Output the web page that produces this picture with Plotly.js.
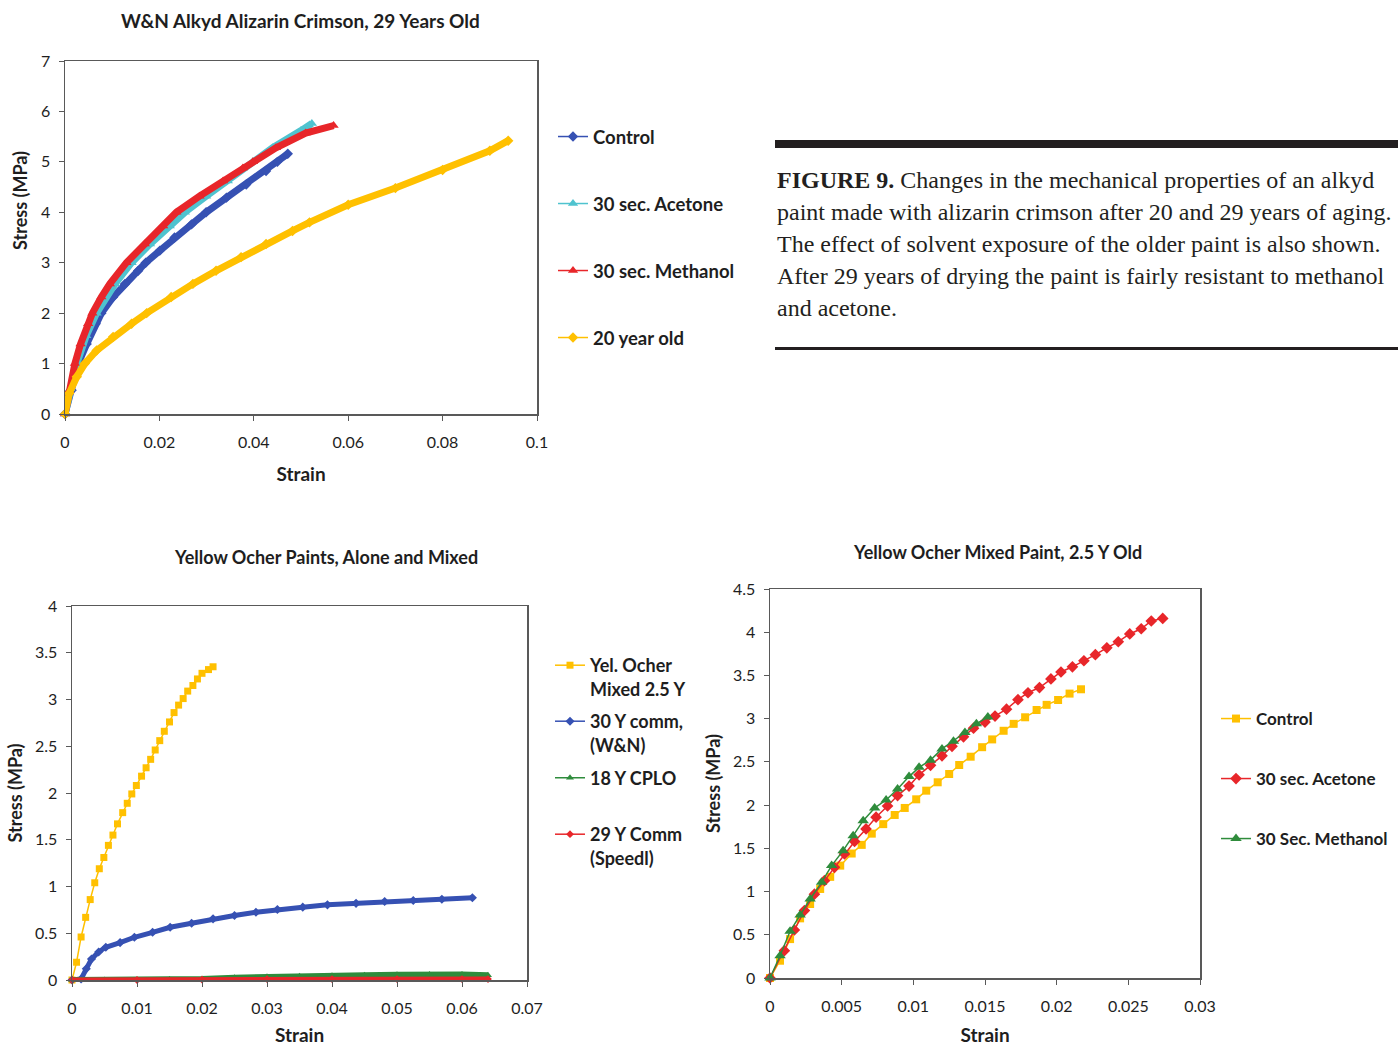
<!DOCTYPE html>
<html><head><meta charset="utf-8">
<script src="https://cdn.plot.ly/plotly-3.0.1.min.js"></script>
<style>html,body{margin:0;padding:0;background:#fff;overflow:hidden;width:1398px;height:1046px;} #chart{width:1398px;height:1046px;overflow:hidden;}</style>
</head><body><div id="chart"></div>
<script>
// ---------- Chart 1: W&N Alkyd Alizarin Crimson, 29 Years Old ----------
const c1Title = "W&N Alkyd Alizarin Crimson, 29 Years Old";
const c1Names = ["Control", "30 sec. Acetone", "30 sec. Methanol", "20 year old"];
const c1ControlStrain = [0,0.0014,0.0028,0.0046,0.0065,0.0077,0.0102,0.0127,0.0155,0.0171,0.0201,0.0232,0.0268,0.0299,0.0342,0.0384,0.0426,0.045,0.0472];
const c1ControlStress = [0,0.47,1.0,1.39,1.79,2.0,2.32,2.58,2.84,3.0,3.24,3.5,3.76,4.0,4.29,4.55,4.82,5.0,5.16];
const c1AcetoneStrain = [0,0.0011,0.0025,0.0045,0.0067,0.0106,0.0141,0.018,0.0222,0.0254,0.0299,0.0345,0.0398,0.044,0.05,0.0523];
const c1AcetoneStress = [0,0.5,1.0,1.55,2.0,2.58,3.0,3.37,3.73,4.0,4.32,4.62,5.0,5.28,5.62,5.76];
const c1MethanolStrain = [0,0.0009,0.0021,0.0033,0.0049,0.0058,0.0077,0.0095,0.013,0.0169,0.0208,0.0236,0.0285,0.0335,0.0377,0.0398,0.0447,0.051,0.0569];
const c1MethanolStress = [0,0.47,1.0,1.39,1.79,2.0,2.32,2.58,3.0,3.37,3.73,4.0,4.32,4.62,4.88,5.0,5.28,5.57,5.72];
const c1OldStrain = [0,0.0009,0.0025,0.0042,0.0067,0.0102,0.0141,0.0173,0.0225,0.0271,0.032,0.0373,0.0426,0.0482,0.0518,0.06,0.07,0.08,0.09,0.0939];
const c1OldStress = [0,0.41,0.74,1.0,1.26,1.53,1.79,2.0,2.32,2.58,2.84,3.11,3.37,3.63,3.8,4.15,4.48,4.84,5.22,5.42];

// ---------- Chart 2: Yellow Ocher Paints, Alone and Mixed ----------
const c2Title = "Yellow Ocher Paints, Alone and Mixed";
const c2Names = ["Yel. Ocher<br>Mixed 2.5 Y", "30 Y comm,<br>(W&N)", "18 Y CPLO", "29 Y Comm<br>(Speedl)"];
const c2MixedStrain = [0,0.0007,0.0014,0.0021,0.0028,0.0035,0.0042,0.0049,0.0056,0.0063,0.0070,0.0078,0.0085,0.0092,0.0099,0.0107,0.0114,0.0121,0.0128,0.0135,0.0142,0.0150,0.0157,0.0164,0.0171,0.0178,0.0186,0.0193,0.0200,0.0210,0.0217];
const c2MixedStress = [0,0.19,0.46,0.67,0.86,1.04,1.19,1.31,1.44,1.55,1.67,1.79,1.89,1.99,2.08,2.18,2.27,2.36,2.46,2.56,2.66,2.76,2.86,2.94,3.01,3.09,3.15,3.22,3.28,3.32,3.35];
const c2WNStrain = [0,0.0014,0.0022,0.003,0.0041,0.0052,0.0074,0.0096,0.0124,0.0151,0.0184,0.0217,0.025,0.0283,0.0316,0.0355,0.0393,0.0437,0.0481,0.0525,0.0569,0.0616];
const c2WNStress = [0,0.01,0.12,0.225,0.30,0.35,0.40,0.457,0.51,0.564,0.607,0.654,0.69,0.725,0.754,0.779,0.804,0.82,0.84,0.85,0.864,0.879];
const c2CPLOStrain = [0,0.005,0.01,0.015,0.02,0.025,0.03,0.035,0.04,0.045,0.05,0.055,0.06,0.064];
const c2CPLOStress = [0,0,0,0.005,0.01,0.025,0.035,0.04,0.045,0.05,0.055,0.06,0.06,0.05];
const c2SpeedlStrain = [0,0.01,0.02,0.03,0.04,0.05,0.06,0.064];
const c2SpeedlStress = [0,0,0.005,0.01,0.01,0.01,0.01,0.01];

// ---------- Chart 3: Yellow Ocher Mixed Paint, 2.5 Y Old ----------
const c3Title = "Yellow Ocher Mixed Paint, 2.5 Y Old";
const c3Names = ["Control", "30 sec. Acetone", "30 Sec. Methanol"];
const c3ControlStrain = [0,0.0007,0.0014,0.0021,0.0028,0.0035,0.0042,0.0049,0.0057,0.0064,0.0071,0.0079,0.0087,0.0094,0.0102,0.0109,0.0117,0.0125,0.0132,0.014,0.0148,0.0155,0.0163,0.017,0.0178,0.0186,0.0193,0.0201,0.0209,0.0217];
const c3ControlStress = [0,0.2,0.45,0.69,0.856,1.03,1.17,1.30,1.44,1.54,1.67,1.78,1.886,1.967,2.067,2.167,2.264,2.36,2.464,2.56,2.67,2.76,2.86,2.94,3.016,3.10,3.16,3.216,3.29,3.34];
const c3AcetoneStrain = [0,0.001,0.0017,0.0024,0.0031,0.0038,0.0045,0.0052,0.0059,0.0067,0.0074,0.0082,0.0089,0.0097,0.0104,0.0112,0.012,0.0127,0.0135,0.0142,0.015,0.0157,0.0165,0.0173,0.018,0.0188,0.0196,0.0203,0.0211,0.0219,0.0227,0.0235,0.0243,0.0251,0.0259,0.0266,0.0274];
const c3AcetoneStress = [0,0.316,0.555,0.78,0.97,1.126,1.28,1.435,1.58,1.724,1.86,1.99,2.11,2.22,2.35,2.46,2.57,2.68,2.79,2.89,2.96,3.03,3.11,3.22,3.30,3.36,3.46,3.54,3.60,3.67,3.74,3.82,3.89,3.98,4.04,4.13,4.16];
const c3MethanolStrain = [0,0.0007,0.0014,0.0021,0.0028,0.0036,0.0043,0.0051,0.0058,0.0065,0.0073,0.0081,0.0089,0.0097,0.0104,0.0112,0.012,0.0128,0.0136,0.0144,0.0152];
const c3MethanolStress = [0,0.258,0.54,0.73,0.914,1.107,1.30,1.473,1.647,1.82,1.967,2.06,2.187,2.33,2.437,2.52,2.65,2.74,2.84,2.94,3.02];

const axisTitle = "Stress (MPa)";
const xTitle = "Strain";
const captionLines = [
  "<b>FIGURE 9.</b> Changes in the mechanical properties of an alkyd",
  "paint made with alizarin crimson after 20 and 29 years of aging.",
  "The effect of solvent exposure of the older paint is also shown.",
  "After 29 years of drying the paint is fairly resistant to methanol",
  "and acetone."
];

// ---------- colours ----------
const BLUE = "#3651b3", CYAN = "#4fc3cf", RED = "#e8262a", YELLOW = "#ffc000", GREEN = "#2f8c3c";

const W = 1398, H = 1046;
const px = v => v / W, py = v => 1 - v / H;
const FONT = "Lato, 'Open Sans', sans-serif";
const SERIF = "'Liberation Serif', 'DejaVu Serif', serif";
const TXT = "#1e1e1e";

// band: thick line (dense-marker look), no legend
function band(x, y, color, lw, xa, ya) {
  return {x, y, type: "scatter", mode: "lines", xaxis: xa, yaxis: ya, showlegend: false,
    cliponaxis: false, hoverinfo: "skip", line: {color, width: lw}};
}
// marked series with legend entry
function series(x, y, name, color, symbol, ms, xa, ya, leg) {
  return {x, y, name, type: "scatter", mode: "lines+markers", xaxis: xa, yaxis: ya, legend: leg,
    cliponaxis: false, line: {color, width: 1.5}, marker: {color, symbol, size: ms}};
}

const traces = [
  band(c1ControlStrain, c1ControlStress, BLUE, 7, "x", "y"),
  series(c1ControlStrain, c1ControlStress, c1Names[0], BLUE, "diamond", 8, "x", "y", "legend"),
  band(c1AcetoneStrain, c1AcetoneStress, CYAN, 7, "x", "y"),
  series(c1AcetoneStrain, c1AcetoneStress, c1Names[1], CYAN, "triangle-up", 9, "x", "y", "legend2"),
  band(c1MethanolStrain, c1MethanolStress, RED, 7, "x", "y"),
  series(c1MethanolStrain, c1MethanolStress, c1Names[2], RED, "triangle-up", 9, "x", "y", "legend3"),
  band(c1OldStrain, c1OldStress, YELLOW, 7, "x", "y"),
  series(c1OldStrain, c1OldStress, c1Names[3], YELLOW, "diamond", 8, "x", "y", "legend4"),

  series(c2MixedStrain, c2MixedStress, c2Names[0], YELLOW, "square", 7, "x2", "y2", "legend5"),
  band(c2WNStrain, c2WNStress, BLUE, 5, "x2", "y2"),
  series(c2WNStrain, c2WNStress, c2Names[1], BLUE, "diamond", 7, "x2", "y2", "legend6"),
  band(c2CPLOStrain, c2CPLOStress, GREEN, 6, "x2", "y2"),
  series(c2CPLOStrain, c2CPLOStress, c2Names[2], GREEN, "triangle-up", 7, "x2", "y2", "legend7"),
  band(c2SpeedlStrain, c2SpeedlStress, RED, 5, "x2", "y2"),
  series(c2SpeedlStrain, c2SpeedlStress, c2Names[3], RED, "diamond", 6, "x2", "y2", "legend8"),

  series(c3ControlStrain, c3ControlStress, c3Names[0], YELLOW, "square", 8, "x3", "y3", "legend9"),
  series(c3AcetoneStrain, c3AcetoneStress, c3Names[1], RED, "diamond", 9, "x3", "y3", "legend10"),
  series(c3MethanolStrain, c3MethanolStress, c3Names[2], GREEN, "triangle-up", 10, "x3", "y3", "legend11")
];

function leg(xp, yp, size) {
  return {x: px(xp), y: py(yp), xanchor: "left", yanchor: "middle", valign: "top",
    bgcolor: "rgba(0,0,0,0)", borderwidth: 0, itemwidth: 30,
    font: {family: FONT, size: size, color: TXT, weight: "bold"}};
}

function xax(dom, rng, dt, anchor) {
  return {domain: dom, range: rng, dtick: dt, tick0: 0, anchor, showline: true, mirror: true,
    linecolor: "#595959", linewidth: 1.5, ticks: "outside", ticklen: 5, tickcolor: "#595959",
    ticklabelstandoff: 8,
    showgrid: false, zeroline: false, tickfont: {family: FONT, size: 16, color: TXT},
    title: {text: xTitle, font: {family: FONT, size: 19, color: TXT, weight: "bold"}, standoff: 18}};
}
function yax(dom, rng, dt, anchor, withTitle) {
  return {domain: dom, range: rng, dtick: dt, tick0: 0, anchor, showline: true, mirror: true,
    linecolor: "#595959", linewidth: 1.5, ticks: "outside", ticklen: 5, tickcolor: "#595959",
    ticklabelstandoff: 5,
    showgrid: false, zeroline: false, tickfont: {family: FONT, size: 16, color: TXT},
    title: withTitle ? {text: axisTitle, font: {family: FONT, size: 18, color: TXT, weight: "bold"}, standoff: 7} : {text: ""}};
}

const annotations = [
  {text: c1Title, x: px(300), y: py(20), xref: "paper", yref: "paper", xanchor: "center", yanchor: "middle", showarrow: false,
    font: {family: FONT, size: 19, color: TXT, weight: "bold"}},
  {text: c2Title, x: px(326), y: py(557), xref: "paper", yref: "paper", xanchor: "center", yanchor: "middle", showarrow: false,
    font: {family: FONT, size: 18, color: TXT, weight: "bold"}},
  {text: c3Title, x: px(997), y: py(552), xref: "paper", yref: "paper", xanchor: "center", yanchor: "middle", showarrow: false,
    font: {family: FONT, size: 18, color: TXT, weight: "bold"}},
  {text: axisTitle, x: px(20), y: py(201), xref: "paper", yref: "paper", xanchor: "center", yanchor: "middle", textangle: -90,
    showarrow: false, font: {family: FONT, size: 18, color: TXT, weight: "bold"}}
];
captionLines.forEach((t, i) => annotations.push({
  text: t, x: px(775), y: py(180 + 32 * i), xref: "paper", yref: "paper", xanchor: "left", yanchor: "middle",
  showarrow: false, font: {family: SERIF, size: 24, color: "#231f20"}
}));

const layout = {
  width: W, height: H, margin: {l: 0, r: 0, t: 0, b: 0}, paper_bgcolor: "#fff", plot_bgcolor: "#fff",
  showlegend: true,
  xaxis: xax([px(65), px(537)], [0, 0.1], 0.02, "y"),
  yaxis: yax([py(414), py(61)], [0, 7], 1, "x", false),
  xaxis2: xax([px(72), px(527)], [0, 0.07], 0.01, "y2"),
  yaxis2: yax([py(980), py(606)], [0, 4], 0.5, "x2", true),
  xaxis3: xax([px(770), px(1200)], [0, 0.03], 0.005, "y3"),
  yaxis3: yax([py(978), py(589)], [0, 4.5], 0.5, "x3", true),
  legend: leg(553, 137, 18.5), legend2: leg(553, 204, 18.5), legend3: leg(553, 271, 18.5), legend4: leg(553, 338, 18.5),
  legend5: leg(550, 677, 18), legend6: leg(550, 733, 18), legend7: leg(550, 778, 18), legend8: leg(550, 846, 18),
  legend9: leg(1216, 719, 17), legend10: leg(1216, 779, 17), legend11: leg(1216, 839, 17),
  annotations,
  shapes: [
    {type: "rect", xref: "paper", yref: "paper", x0: px(775), x1: px(1398), y0: py(148), y1: py(140),
      fillcolor: "#231f20", line: {width: 0}},
    {type: "rect", xref: "paper", yref: "paper", x0: px(775), x1: px(1398), y0: py(350), y1: py(347),
      fillcolor: "#231f20", line: {width: 0}}
  ]
};

Plotly.newPlot("chart", traces, layout, {displayModeBar: false, staticPlot: true});
</script></body></html>
